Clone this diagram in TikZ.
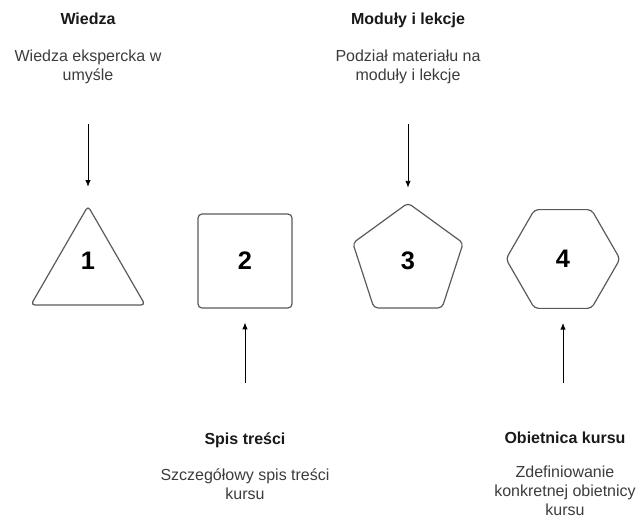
\documentclass[tikz,border=0pt]{standalone}
\usepackage{fontspec}
\setmainfont{Liberation Sans}
\usetikzlibrary{positioning}
\usetikzlibrary{arrows.meta}
\usetikzlibrary{shapes.geometric}
\definecolor{shapegray}{HTML}{5A5A5A}
\definecolor{descgray}{HTML}{3C3C3C}
\tikzset{%
  myedge/.style={-{Latex[length=5pt,width=4pt]}, line width=0.6pt, black},
  myshape/.style={draw=shapegray, line width=0.9pt, rounded corners=3pt, inner sep=0pt},
  mytitle/.style={font=\bfseries\fontsize{12}{14.25}\selectfont, text=black!90, inner sep=0pt, text height=9pt, text depth=3pt},
  mydesc/.style={font=\fontsize{12}{14.25}\selectfont, text=descgray, align=center, inner sep=0pt},
  mynum/.style={font=\bfseries\fontsize{19}{22}\selectfont, inner sep=0pt}
}

\begin{document}
\begin{tikzpicture}[x=0.75pt,y=-0.75pt]
  \useasboundingbox (0,0) rectangle (637,521);
  % ksztalty
  \node[myshape, regular polygon, regular polygon sides=3, minimum size=99pt] (t1) at (88,272) {};
  \node[myshape, rectangle, minimum size=70.5pt] (s2) at (245,261) {};
  \node[myshape, regular polygon, regular polygon sides=5, minimum size=87pt] (p3) at (408,261) {};
  \node[myshape, regular polygon, regular polygon sides=6, minimum size=85.5pt] (h4) at (563,259) {};
  \node[mynum] (n1) at (88,261) {1};
  \node[mynum] (n2) at (245,261) {2};
  \node[mynum] (n3) at (408,261) {3};
  \node[mynum] (n4) at (563,259) {4};
  % opisy
  \node[mytitle] (w1) at (88,21) {Wiedza};
  \node[mydesc, below=15pt of w1] (d1) {Wiedza ekspercka w\\umyśle};
  \node[mytitle] (w3) at (408,21) {Moduły i lekcje};
  \node[mydesc, below=15pt of w3] (d3) {Podział materiału na\\moduły i lekcje};
  \node[mytitle] (w2) at (245,440) {Spis treści};
  \node[mydesc, below=15pt of w2] (d2) {Szczegółowy spis treści\\kursu};
  \node[mytitle] (w4) at (565,439) {Obietnica kursu};
  \node[mydesc, below=14pt of w4] (d4) {Zdefiniowanie\\konkretnej obietnicy\\kursu};
  % strzalki
  \coordinate (a1) at (88,124);
  \coordinate (a3) at (408,124);
  \coordinate (a2) at (245,383);
  \coordinate (a4) at (563,383);
  \draw[myedge, shorten >=13.5pt] (a1) -- (t1);
  \draw[myedge, shorten >=11pt] (a3) -- (p3);
  \draw[myedge, shorten >=10.5pt] (a2) -- (s2);
  \draw[myedge, shorten >=10.5pt] (a4) -- (h4);
\end{tikzpicture}
\end{document}
